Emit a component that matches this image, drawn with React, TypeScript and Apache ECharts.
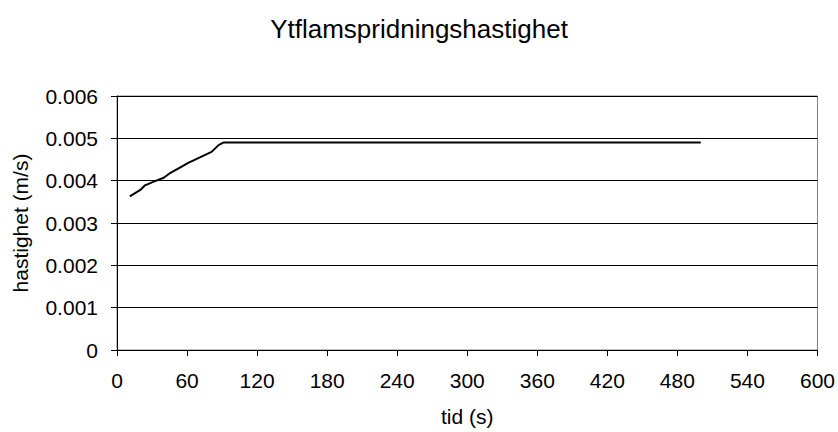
import React, { useEffect, useRef } from "react";
import * as echarts from "echarts";

const titleText = "Ytflamspridningshastighet";
const xAxisName = "tid (s)";
const yAxisName = "hastighet (m/s)";
const timeValues = [11, 20, 24, 31, 40, 45, 52, 61, 71, 81, 87, 91, 500];
const speedValues = [0.00363, 0.00378, 0.00389, 0.00397, 0.00407, 0.00417, 0.00428, 0.00442, 0.00455, 0.00468, 0.00484, 0.0049, 0.0049];

export default function App() {
  const ref = useRef<HTMLDivElement>(null);
  useEffect(() => {
    if (!ref.current) return;
    const chart = echarts.init(ref.current, null, { renderer: "svg" });
    const font = "'Liberation Sans', Arial, sans-serif";
    chart.setOption({
      animation: false,
      backgroundColor: "#ffffff",
      title: {
        text: titleText,
        left: "center",
        top: 11,
        textStyle: { fontFamily: font, fontSize: 26, fontWeight: "normal", color: "#000" },
      },
      grid: { left: 117, right: 20, top: 96, bottom: 82, show: true, borderColor: "#808080", borderWidth: 1 },
      xAxis: {
        type: "value",
        min: 0,
        max: 600,
        interval: 60,
        name: xAxisName,
        nameLocation: "middle",
        nameGap: 56,
        nameTextStyle: { fontFamily: font, fontSize: 21, color: "#000" },
        axisLine: { show: true, lineStyle: { color: "#000" } },
        axisTick: { show: true, length: 6, lineStyle: { color: "#000" } },
        axisLabel: { fontFamily: font, fontSize: 21, color: "#000", margin: 20 },
        splitLine: { show: false },
      },
      yAxis: {
        type: "value",
        min: 0,
        max: 0.006,
        interval: 0.001,
        name: yAxisName,
        nameLocation: "middle",
        nameGap: 86,
        nameTextStyle: { fontFamily: font, fontSize: 21, color: "#000" },
        axisLine: { show: true, lineStyle: { color: "#000" } },
        axisTick: { show: true, length: 6, lineStyle: { color: "#000" } },
        axisLabel: {
          fontFamily: font,
          fontSize: 21,
          color: "#000",
          margin: 19,
          formatter: (v: number) => (v === 0 ? "0" : v.toFixed(3)),
        },
        splitLine: { show: true, lineStyle: { color: "#000", width: 1 } },
      },
      series: [
        {
          type: "line",
          data: timeValues.map((t, i) => [t, speedValues[i]]),
          showSymbol: false,
          lineStyle: { color: "#000", width: 2 },
        },
      ],
    });
    return () => chart.dispose();
  }, []);
  return <div ref={ref} style={{ position: "fixed", left: 0, top: 0, width: 838, height: 432 }} />;
}
